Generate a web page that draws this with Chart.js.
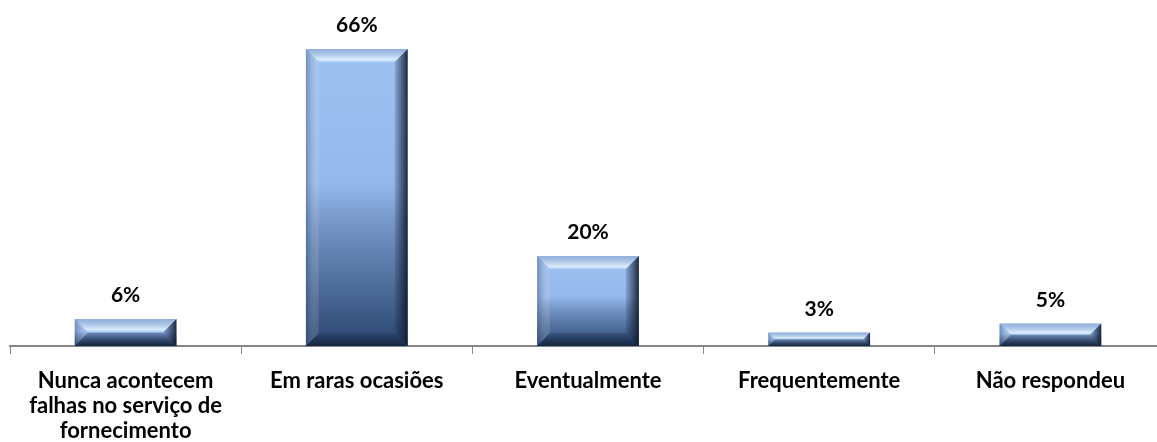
<!DOCTYPE html>
<html>
<head>
<meta charset="utf-8">
<script src="https://cdn.jsdelivr.net/npm/chart.js@4/dist/chart.umd.min.js"></script>
<style>
  html, body { margin: 0; padding: 0; background: #fff; overflow: hidden; }
  #wrap { width: 1166px; height: 442px; position: relative; }
</style>
</head>
<body>
<div id="wrap"><canvas id="grafico"></canvas></div>
<script>
const categorias = [
  ["Nunca acontecem", "falhas no serviço de", "fornecimento"],
  "Em raras ocasiões",
  "Eventualmente",
  "Frequentemente",
  "Não respondeu"
];
const percentuais = [6, 66, 20, 3, 5];

const fonte = "Lato, 'Open Sans', sans-serif";

// gradient for each bar, light on top and dark at the base
const gradienteBarra = function (context) {
  const chart = context.chart;
  if (!chart.chartArea || context.type !== "data") return "#8fb2e6";
  const y = chart.scales.y.getPixelForValue(context.parsed.y);
  const base = chart.scales.y.getPixelForValue(0);
  const g = chart.ctx.createLinearGradient(0, y, 0, base);
  g.addColorStop(0, "#9fc1f1");
  g.addColorStop(0.45, "#95b8ec");
  g.addColorStop(0.58, "#7697c8");
  g.addColorStop(1, "#2a4670");
  return g;
};

// bevel edges over the bars
const bisel = {
  id: "bisel",
  afterDatasetsDraw(chart) {
    const ctx = chart.ctx;
    chart.getDatasetMeta(0).data.forEach((el) => {
      const p = el.getProps(["x", "y", "base", "width"], true);
      const x0 = p.x - p.width / 2, x1 = p.x + p.width / 2;
      const y0 = p.y, y1 = p.base;
      const b = Math.min(13, (y1 - y0) / 2, p.width / 2);
      ctx.save();
      // top
      let g = ctx.createLinearGradient(0, y0, 0, y0 + b);
      g.addColorStop(0, "rgba(130,160,200,0.5)");
      g.addColorStop(0.8, "rgba(230,245,255,0.85)");
      g.addColorStop(1, "rgba(200,228,255,0.55)");
      ctx.fillStyle = g;
      ctx.beginPath();
      ctx.moveTo(x0, y0); ctx.lineTo(x1, y0); ctx.lineTo(x1 - b, y0 + b); ctx.lineTo(x0 + b, y0 + b);
      ctx.closePath(); ctx.fill();
      // left
      g = ctx.createLinearGradient(x0, 0, x0 + b, 0);
      g.addColorStop(0, "rgba(50,80,120,0.45)");
      g.addColorStop(1, "rgba(255,255,255,0.08)");
      ctx.fillStyle = g;
      ctx.beginPath();
      ctx.moveTo(x0, y0); ctx.lineTo(x0 + b, y0 + b); ctx.lineTo(x0 + b, y1 - b); ctx.lineTo(x0, y1);
      ctx.closePath(); ctx.fill();
      // right
      g = ctx.createLinearGradient(x1 - b, 0, x1, 0);
      g.addColorStop(0, "rgba(20,35,60,0.15)");
      g.addColorStop(1, "rgba(15,25,45,0.9)");
      ctx.fillStyle = g;
      ctx.beginPath();
      ctx.moveTo(x1, y0); ctx.lineTo(x1 - b, y0 + b); ctx.lineTo(x1 - b, y1 - b); ctx.lineTo(x1, y1);
      ctx.closePath(); ctx.fill();
      // bottom
      g = ctx.createLinearGradient(0, y1 - b, 0, y1);
      g.addColorStop(0, "rgba(20,35,60,0.2)");
      g.addColorStop(1, "rgba(15,25,45,0.7)");
      ctx.fillStyle = g;
      ctx.beginPath();
      ctx.moveTo(x0, y1); ctx.lineTo(x0 + b, y1 - b); ctx.lineTo(x1 - b, y1 - b); ctx.lineTo(x1, y1);
      ctx.closePath(); ctx.fill();
      ctx.restore();
    });
  }
};

// value labels above the bars
const rotulos = {
  id: "rotulos",
  afterDatasetsDraw(chart) {
    const ctx = chart.ctx;
    const dados = chart.data.datasets[0].data;
    ctx.save();
    ctx.font = "bold 21px " + fonte;
    ctx.fillStyle = "#000";
    ctx.textAlign = "center";
    ctx.textBaseline = "alphabetic";
    chart.getDatasetMeta(0).data.forEach((el, i) => {
      ctx.fillText(dados[i] + "%", el.x, el.y - 17);
    });
    ctx.restore();
  }
};

new Chart(document.getElementById("grafico"), {
  type: "bar",
  data: {
    labels: categorias,
    datasets: [
      {
        data: percentuais,
        backgroundColor: gradienteBarra,
        borderWidth: 0,
        barPercentage: 0.44,
        categoryPercentage: 1
      }
    ]
  },
  options: {
    responsive: true,
    maintainAspectRatio: false,
    animation: false,
    layout: { padding: { left: 10, right: 0, top: 31, bottom: 0 } },
    plugins: { legend: { display: false }, tooltip: { enabled: false } },
    scales: {
      y: { display: false, min: 0, max: 70 },
      x: {
        afterFit: (s) => { s.height = 96; },
        grid: { display: true, drawOnChartArea: false, drawTicks: true, tickLength: 8, color: "#868686", lineWidth: 1, offset: true },
        border: { display: true, color: "#868686", width: 2 },
        ticks: {
          color: "#000",
          padding: 14,
          maxRotation: 0,
          autoSkip: false,
          font: { family: fonte, size: 22, weight: "bold", lineHeight: 1.15 }
        }
      }
    }
  },
  plugins: [bisel, rotulos]
});
</script>
</body>
</html>
